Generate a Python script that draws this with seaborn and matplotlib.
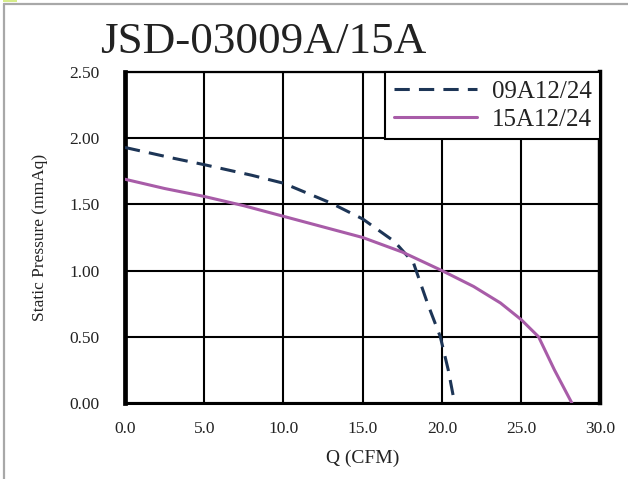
"""
Fan P-Q curve: JSD-03009A/15A static pressure vs air flow
"""

import pandas as pd
import matplotlib.pyplot as plt
import matplotlib.patches as mpatches
import seaborn as sns

# data
q_09a = [0.0, 3.0, 5.0, 8.0, 10.0, 11.0, 13.0, 15.0, 17.0, 18.2, 19.1, 19.9, 20.4, 20.8]
p_09a = [1.93, 1.85, 1.80, 1.72, 1.66, 1.61, 1.51, 1.39, 1.22, 1.06, 0.75, 0.50, 0.25, 0.00]
q_15a = [0.0, 2.5, 5.0, 7.5, 10.0, 12.5, 15.0, 17.5, 20.0, 22.0, 23.7, 25.0, 26.1, 27.1, 28.2]
p_15a = [1.69, 1.62, 1.56, 1.49, 1.41, 1.33, 1.25, 1.14, 1.00, 0.88, 0.755, 0.63, 0.50, 0.25, 0.00]
series_names = ['09A12/24', '15A12/24']
x_ticks = [0.0, 5.0, 10.0, 15.0, 20.0, 25.0, 30.0]
y_ticks = [0.00, 0.50, 1.00, 1.50, 2.00, 2.50]
title = 'JSD-03009A/15A'

df = pd.concat([
    pd.DataFrame({'Q': q_09a, 'P': p_09a, 'model': series_names[0]}),
    pd.DataFrame({'Q': q_15a, 'P': p_15a, 'model': series_names[1]}),
], ignore_index=True)

sns.set_style('white')
plt.rcParams['font.family'] = ['Liberation Serif', 'DejaVu Serif']

fig = plt.figure(figsize=(6.28, 4.79), dpi=100)
ax = fig.add_axes([0.199, 0.1587, 0.757, 0.691])

# gray page frame and little marker in the corner
fig.add_artist(plt.Line2D([0.0064, 0.0064], [0, 0.992], transform=fig.transFigure,
                          color='#a8a8a8', lw=1.6))
fig.add_artist(plt.Line2D([0.0064, 1], [0.992, 0.992], transform=fig.transFigure,
                          color='#a8a8a8', lw=1.6))
fig.add_artist(mpatches.Rectangle((0.005, 0.995), 0.022, 0.005, transform=fig.transFigure,
                                  color='#d6ec8a', lw=0))

palette = {series_names[0]: '#1d3556', series_names[1]: '#a85ca8'}
dashes = {series_names[0]: (5, 3), series_names[1]: ''}
sns.lineplot(data=df, x='Q', y='P', hue='model', style='model', palette=palette,
             dashes=dashes, sort=False, lw=2.2, ax=ax, zorder=3)

ax.set_xlim(0, 30)
ax.set_ylim(0, 2.5)
ax.set_xticks(x_ticks)
ax.set_xticklabels([f'{v:.1f}' for v in x_ticks])
ax.set_yticks(y_ticks)
ax.set_yticklabels([f'{v:.2f}' for v in y_ticks])
ax.tick_params(axis='both', length=0, labelsize=12.5, colors='#222222')
ax.tick_params(axis='x', pad=13)
ax.tick_params(axis='y', pad=18)
ax.grid(True, color='black', lw=1.5)
ax.set_axisbelow(True)

for side, w in [('left', 3.4), ('right', 3.2), ('top', 1.6), ('bottom', 2.2)]:
    ax.spines[side].set_visible(True)
    ax.spines[side].set_color('black')
    ax.spines[side].set_linewidth(w)

ax.set_xlabel('Q (CFM)', fontsize=14, color='#222222', labelpad=9)
ax.set_ylabel('Static Pressure (mmAq)', fontsize=12.5, color='#222222')
ax.yaxis.set_label_coords(-0.162, 0.5)

leg = ax.legend(loc='upper right', borderaxespad=0, fontsize=18, handlelength=3.3,
                frameon=True, fancybox=False, borderpad=0.35, labelspacing=0.2,
                handletextpad=0.6)
leg.get_frame().set_edgecolor('black')
leg.get_frame().set_linewidth(1.5)
leg.get_frame().set_alpha(1)
leg.set_zorder(5)
for t in leg.get_texts():
    t.set_color('#222222')

fig.text(0.419, 0.889, title, fontsize=32.5, ha='center', va='baseline', color='#222222')

plt.savefig('out.png', dpi=100)
